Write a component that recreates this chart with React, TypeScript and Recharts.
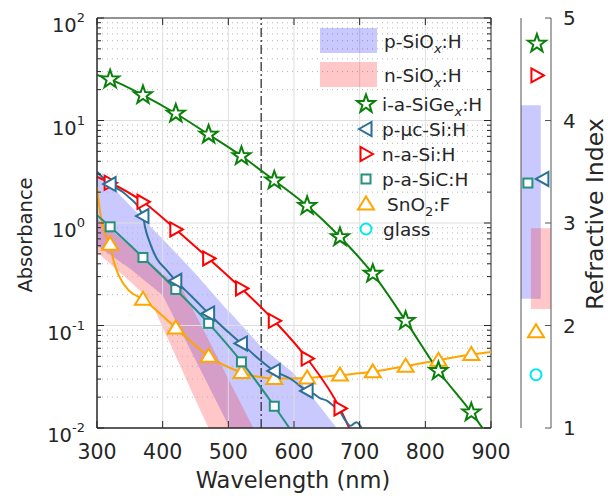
import React from "react";
import {
  ComposedChart,
  Line,
  Area,
  Scatter,
  XAxis,
  YAxis,
  ReferenceLine,
  ReferenceArea,
  Label,
} from "recharts";

const FONT = '"DejaVu Sans", "Open Sans", sans-serif';
const INK = "#262626";

// layout of the main plot box
const PLOT_W = 394;
const PLOT_H = 410;
const TM = 10;

// axes
const xTicks = [300, 400, 500, 600, 700, 800, 900];
const decades = [0.01, 0.1, 1, 10, 100];
const minorMult = [2, 3, 4, 5, 6, 7, 8, 9];
const yMinor = decades.slice(0, 4).flatMap((d) => minorMult.map((m) => +(d * m).toPrecision(3)));
const yTicks = [...decades, ...yMinor].sort((a, b) => a - b);
const riTicks = [1, 2, 3, 4, 5];

// i-a-SiGex:H
const sigeWl = [300, 320, 370, 420, 470, 520, 570, 620, 670, 720, 770, 820, 870, 887];
const sigeAbs = [27.8, 25.2, 17.7, 11.7, 7.3, 4.5, 2.6, 1.47, 0.73, 0.32, 0.111, 0.036, 0.0142, 0.01];
const sigeMarks = [320, 370, 420, 470, 520, 570, 620, 670, 720, 770, 820, 870];

// p-uc-Si:H
const pmcWl = [300, 320, 345, 370, 373, 381, 391, 406, 420, 445, 470, 495, 520, 545, 570, 594, 620, 630, 640, 650, 660, 670, 678, 686, 695, 703];
const pmcAbs = [3.16, 2.4, 1.87, 1.17, 0.92, 0.63, 0.45, 0.347, 0.273, 0.19, 0.131, 0.092, 0.0668, 0.048, 0.036, 0.0304, 0.023, 0.0215, 0.0195, 0.0185, 0.0165, 0.0145, 0.0119, 0.0105, 0.0114, 0.01];
const pmcMarks = [320, 370, 420, 470, 520, 570, 620];

// n-a-Si:H
const nasiWl = [300, 320, 370, 420, 470, 520, 570, 620, 670, 684];
const nasiAbs = [2.82, 2.47, 1.61, 0.865, 0.451, 0.23, 0.111, 0.0476, 0.0155, 0.01];
const nasiMarks = [320, 370, 420, 470, 520, 570, 620, 670];

// p-a-SiC:H
const sicWl = [300, 320, 370, 420, 470, 520, 570, 593];
const sicAbs = [1.19, 0.918, 0.461, 0.225, 0.105, 0.0442, 0.0163, 0.01];
const sicMarks = [320, 370, 420, 470, 520, 570];

// SnO2:F
const snoWl = [300, 305, 312, 320, 325, 333, 348, 370, 420, 470, 520, 570, 620, 670, 720, 770, 820, 870, 900];
const snoAbs = [2.26, 1.24, 0.79, 0.62, 0.434, 0.31, 0.221, 0.18, 0.0948, 0.0502, 0.0348, 0.0304, 0.0308, 0.0328, 0.0353, 0.0401, 0.0459, 0.0522, 0.0553];
const snoMarks = [320, 370, 420, 470, 520, 570, 620, 670, 720, 770, 820, 870];

// p-SiOx:H band
const pBandWl = [300, 350, 400, 450, 500, 503, 550, 600, 640, 665];
const pBandLow = [0.6, 0.36, 0.197, 0.046, 0.0107, 0.01, 0.01, 0.01, 0.01, 0.01];
const pBandHigh = [3.2, 1.49, 0.7, 0.32, 0.138, 0.133, 0.062, 0.034, 0.016, 0.01];

// n-SiOx:H band
const nBandWl = [300, 350, 381, 400, 431, 450, 470, 500, 538];
const nBandLow = [0.52, 0.27, 0.177, 0.096, 0.035, 0.0188, 0.01, 0.01, 0.01];
const nBandHigh = [1.1, 0.6, 0.41, 0.32, 0.221, 0.128, 0.072, 0.03, 0.01];

const cutWl = 550;

// refractive index panel
const riSlot = [0.53, 0.73, 0.53, 0.23, 0.5, 0.5];
const riValue = [4.75, 3.43, 4.44, 3.39, 1.94, 1.52];
const riPBand = [2.26, 4.15];
const riNBand = [2.16, 2.95];
const riPSlot = [0, 0.66];
const riNSlot = [0.33, 1];

const C = {
  sige: "#0a800a",
  pmc: "#2b7096",
  nasi: "#ff0000",
  sic: "#27907c",
  sno: "#ffa500",
  glass: "#00e8f0",
};

const zip = (wl: number[], v: number[]) => wl.map((x, i) => ({ x, y: v[i] }));
const zipBand = (wl: number[], lo: number[], hi: number[]) =>
  wl.map((x, i) => ({ x, r: [lo[i], hi[i]] }));

type MP = { cx: number; cy: number; color: string };

const Star = ({ cx, cy, color }: MP) => {
  const pts: string[] = [];
  for (let i = 0; i < 10; i++) {
    const a = -Math.PI / 2 + (i * Math.PI) / 5;
    const rad = i % 2 === 0 ? 9.5 : 3.8;
    pts.push(`${cx + rad * Math.cos(a)},${cy + rad * Math.sin(a)}`);
  }
  return <polygon points={pts.join(" ")} fill="#fff" stroke={color} strokeWidth={2} />;
};
const TriLeft = ({ cx, cy, color }: MP) => (
  <polygon
    points={`${cx - 7},${cy} ${cx + 5.5},${cy - 7} ${cx + 5.5},${cy + 7}`}
    fill="#fff"
    stroke={color}
    strokeWidth={2}
  />
);
const TriRight = ({ cx, cy, color }: MP) => (
  <polygon
    points={`${cx + 7},${cy} ${cx - 5.5},${cy - 7} ${cx - 5.5},${cy + 7}`}
    fill="#fff"
    stroke={color}
    strokeWidth={2}
  />
);
const TriUp = ({ cx, cy, color }: MP) => (
  <polygon
    points={`${cx},${cy - 7.5} ${cx - 8},${cy + 5.5} ${cx + 8},${cy + 5.5}`}
    fill="#fff"
    stroke={color}
    strokeWidth={2}
  />
);
const Square = ({ cx, cy, color }: MP) => (
  <rect x={cx - 4.5} y={cy - 4.5} width={9} height={9} fill="#fff" stroke={color} strokeWidth={2} />
);
const Circ = ({ cx, cy, color }: MP) => (
  <circle cx={cx} cy={cy} r={5.5} fill="#fff" stroke={color} strokeWidth={2} />
);

const dotFor = (marks: number[], Shape: any, color: string) => (p: any) =>
  marks.includes(p.payload.x) ? (
    <Shape key={`d${p.index}`} cx={p.cx} cy={p.cy} color={color} />
  ) : (
    <g key={`d${p.index}`} />
  );

const AbsTick = (props: any) => {
  const { x, y, payload } = props;
  const v = payload.value;
  const ax = x + TM;
  const major = decades.includes(v);
  const len = major ? 7 : 4;
  const exp = Math.round(Math.log10(v));
  return (
    <g>
      <line x1={ax} x2={ax + len} y1={y} y2={y} stroke={INK} />
      <line x1={ax + PLOT_W} x2={ax + PLOT_W - len} y1={y} y2={y} stroke={INK} />
      {major && (
        <text x={ax - 12} y={y + 14} textAnchor="end" fontFamily={FONT} fontSize={19.5} fill={INK}>
          10
          <tspan dy={-10} fontSize={13}>
            {exp}
          </tspan>
        </text>
      )}
    </g>
  );
};

const WlTick = (props: any) => {
  const { x, y, payload } = props;
  const ay = y - TM;
  return (
    <g>
      <line x1={x} x2={x} y1={ay} y2={ay - 7} stroke={INK} />
      <line x1={x} x2={x} y1={ay - PLOT_H} y2={ay - PLOT_H + 7} stroke={INK} />
      <text x={x} y={ay + 31} textAnchor="middle" fontFamily={FONT} fontSize={20.5} fill={INK}>
        {payload.value}
      </text>
    </g>
  );
};

const RiTickLeft = (props: any) => {
  const { x, y } = props;
  const ax = x + TM;
  return <line x1={ax} x2={ax + 6} y1={y} y2={y} stroke="#555" />;
};

const RiTickRight = (props: any) => {
  const { x, y, payload } = props;
  const ax = x - TM;
  return (
    <g>
      <line x1={ax} x2={ax - 6} y1={y} y2={y} stroke="#555" />
      <text x={ax + 12} y={y + 7} fontFamily={FONT} fontSize={20} fill={INK}>
        {payload.value}
      </text>
    </g>
  );
};

const legendRows = [
  { Shape: Star, color: C.sige, name: ["i-a-SiGe", "x", ":H"], tx: 382 },
  { Shape: TriLeft, color: C.pmc, name: ["p-\u03bcc-Si:H"], tx: 382 },
  { Shape: TriRight, color: C.nasi, name: ["n-a-Si:H"], tx: 382 },
  { Shape: Square, color: C.sic, name: ["p-a-SiC:H"], tx: 382 },
  { Shape: TriUp, color: C.sno, name: ["SnO", "2", ":F"], tx: 387 },
  { Shape: Circ, color: C.glass, name: ["glass"], tx: 383 },
];

const SubText = ({ x, y, parts, italic }: { x: number; y: number; parts: string[]; italic?: boolean }) => (
  <text x={x} y={y} fontFamily={FONT} fontSize={18.5} fill={INK}>
    {parts[0]}
    {parts.length > 1 && (
      <>
        <tspan dy={5} fontSize={13} fontStyle={italic ? "italic" : "normal"}>
          {parts[1]}
        </tspan>
        <tspan dy={-5}>{parts[2]}</tspan>
      </>
    )}
  </text>
);

const LegendBox = () => (
  <svg width={608} height={498} style={{ position: "absolute", top: 0, left: 0, pointerEvents: "none" }}>
    <rect x={320} y={28} width={57} height={25} fill="blue" fillOpacity={0.21} />
    <SubText x={384} y={47.5} parts={["p-SiO", "x", ":H"]} italic />
    <rect x={320} y={62} width={57} height={25} fill="red" fillOpacity={0.22} />
    <SubText x={384} y={82} parts={["n-SiO", "x", ":H"]} italic />
    {legendRows.map((r, i) => (
      <g key={i}>
        <r.Shape cx={366} cy={104 + i * 25} color={r.color} />
        <SubText x={r.tx} y={111 + i * 25} parts={r.name} italic={i === 0} />
      </g>
    ))}
  </svg>
);

const riShapes = [Star, TriLeft, TriRight, Square, TriUp, Circ];
const riColors = [C.sige, C.pmc, C.nasi, C.sic, C.sno, C.glass];

export default function App() {
  return (
    <div style={{ position: "absolute", top: 0, left: 0, width: 608, height: 498, background: "#fff" }}>
      <ComposedChart
        width={608}
        height={498}
        margin={{ top: 18, right: 117, bottom: 0, left: 0 }}
        style={{ position: "absolute", top: 0, left: 0 }}
      >
        <XAxis
          type="number"
          dataKey="x"
          domain={[300, 900]}
          ticks={xTicks}
          height={70}
          allowDataOverflow
          tickSize={0}
          tickMargin={TM}
          tickLine={false}
          axisLine={{ stroke: INK }}
          tick={WlTick}
        >
          <Label value="Wavelength (nm)" position="center" dx={-1} dy={17} fontFamily={FONT} fontSize={22.5} fill={INK} />
        </XAxis>
        <YAxis
          type="number"
          dataKey="y"
          scale="log"
          domain={[0.01, 100]}
          ticks={yTicks}
          width={97}
          allowDataOverflow
          tickSize={0}
          tickMargin={TM}
          tickLine={false}
          axisLine={{ stroke: INK }}
          tick={AbsTick}
          interval={0}
        >
          <Label value="Absorbance" angle={-90} position="center" dx={-23} dy={12} fontFamily={FONT} fontSize={19.5} fill={INK} />
        </YAxis>

        {yMinor.map((v) => (
          <ReferenceLine key={`m${v}`} y={v} stroke="#b5b5b5" strokeDasharray="1 4" />
        ))}
        {decades.slice(1, 4).map((v) => (
          <ReferenceLine key={`M${v}`} y={v} stroke="#dedede" />
        ))}
        {xTicks.slice(1, 6).map((v) => (
          <ReferenceLine key={`X${v}`} x={v} stroke="#dedede" />
        ))}

        <Area
          data={zipBand(pBandWl, pBandLow, pBandHigh)}
          dataKey="r"
          type="linear"
          stroke="none"
          fill="blue"
          fillOpacity={0.21}
          isAnimationActive={false}
        />
        <Area
          data={zipBand(nBandWl, nBandLow, nBandHigh)}
          dataKey="r"
          type="linear"
          stroke="none"
          fill="red"
          fillOpacity={0.22}
          isAnimationActive={false}
        />

        <ReferenceLine x={cutWl} stroke="#333" strokeWidth={1.3} strokeDasharray="9 3 2 3" />

        <Line data={zip(snoWl, snoAbs)} dataKey="y" type="monotone" stroke={C.sno} strokeWidth={2} dot={dotFor(snoMarks, TriUp, C.sno)} isAnimationActive={false} />
        <Line data={zip(sicWl, sicAbs)} dataKey="y" type="monotone" stroke={C.sic} strokeWidth={2} dot={dotFor(sicMarks, Square, C.sic)} isAnimationActive={false} />
        <Line data={zip(nasiWl, nasiAbs)} dataKey="y" type="monotone" stroke={C.nasi} strokeWidth={2} dot={dotFor(nasiMarks, TriRight, C.nasi)} isAnimationActive={false} />
        <Line data={zip(pmcWl, pmcAbs)} dataKey="y" type="monotone" stroke={C.pmc} strokeWidth={2} dot={dotFor(pmcMarks, TriLeft, C.pmc)} isAnimationActive={false} />
        <Line data={zip(sigeWl, sigeAbs)} dataKey="y" type="monotone" stroke={C.sige} strokeWidth={2} dot={dotFor(sigeMarks, Star, C.sige)} isAnimationActive={false} />

        <ReferenceArea x1={300} x2={900} y1={0.01} y2={100} fill="none" stroke={INK} strokeWidth={1} />
      </ComposedChart>

      <ComposedChart
        width={608}
        height={498}
        margin={{ top: 18, right: 0, bottom: 70, left: 0 }}
        style={{ position: "absolute", top: 0, left: 0 }}
      >
        <XAxis type="number" dataKey="x" domain={[0, 1]} hide />
        <YAxis
          yAxisId="l"
          orientation="left"
          type="number"
          domain={[1, 5]}
          ticks={riTicks}
          width={521}
          tickSize={0}
          tickMargin={TM}
          tickLine={false}
          axisLine={{ stroke: "#555" }}
          tick={RiTickLeft}
        />
        <YAxis
          yAxisId="r"
          orientation="right"
          type="number"
          dataKey="y"
          domain={[1, 5]}
          ticks={riTicks}
          width={57}
          tickSize={0}
          tickMargin={TM}
          tickLine={false}
          axisLine={{ stroke: "#555" }}
          tick={RiTickRight}
        >
          <Label value="Refractive Index" angle={-90} position="center" dx={15} dy={-9} fontFamily={FONT} fontSize={23.5} fill={INK} />
        </YAxis>
        <ReferenceArea yAxisId="r" x1={riPSlot[0]} x2={riPSlot[1]} y1={riPBand[0]} y2={riPBand[1]} fill="blue" fillOpacity={0.21} stroke="none" />
        <ReferenceArea yAxisId="r" x1={riNSlot[0]} x2={riNSlot[1]} y1={riNBand[0]} y2={riNBand[1]} fill="red" fillOpacity={0.22} stroke="none" />
        {riValue.map((v, i) => {
          const Shape = riShapes[i];
          return (
            <Scatter
              key={i}
              yAxisId="r"
              data={[{ x: riSlot[i], y: v }]}
              isAnimationActive={false}
              shape={(p: any) => <Shape cx={p.cx} cy={p.cy} color={riColors[i]} />}
            />
          );
        })}
      </ComposedChart>

      <LegendBox />
    </div>
  );
}
